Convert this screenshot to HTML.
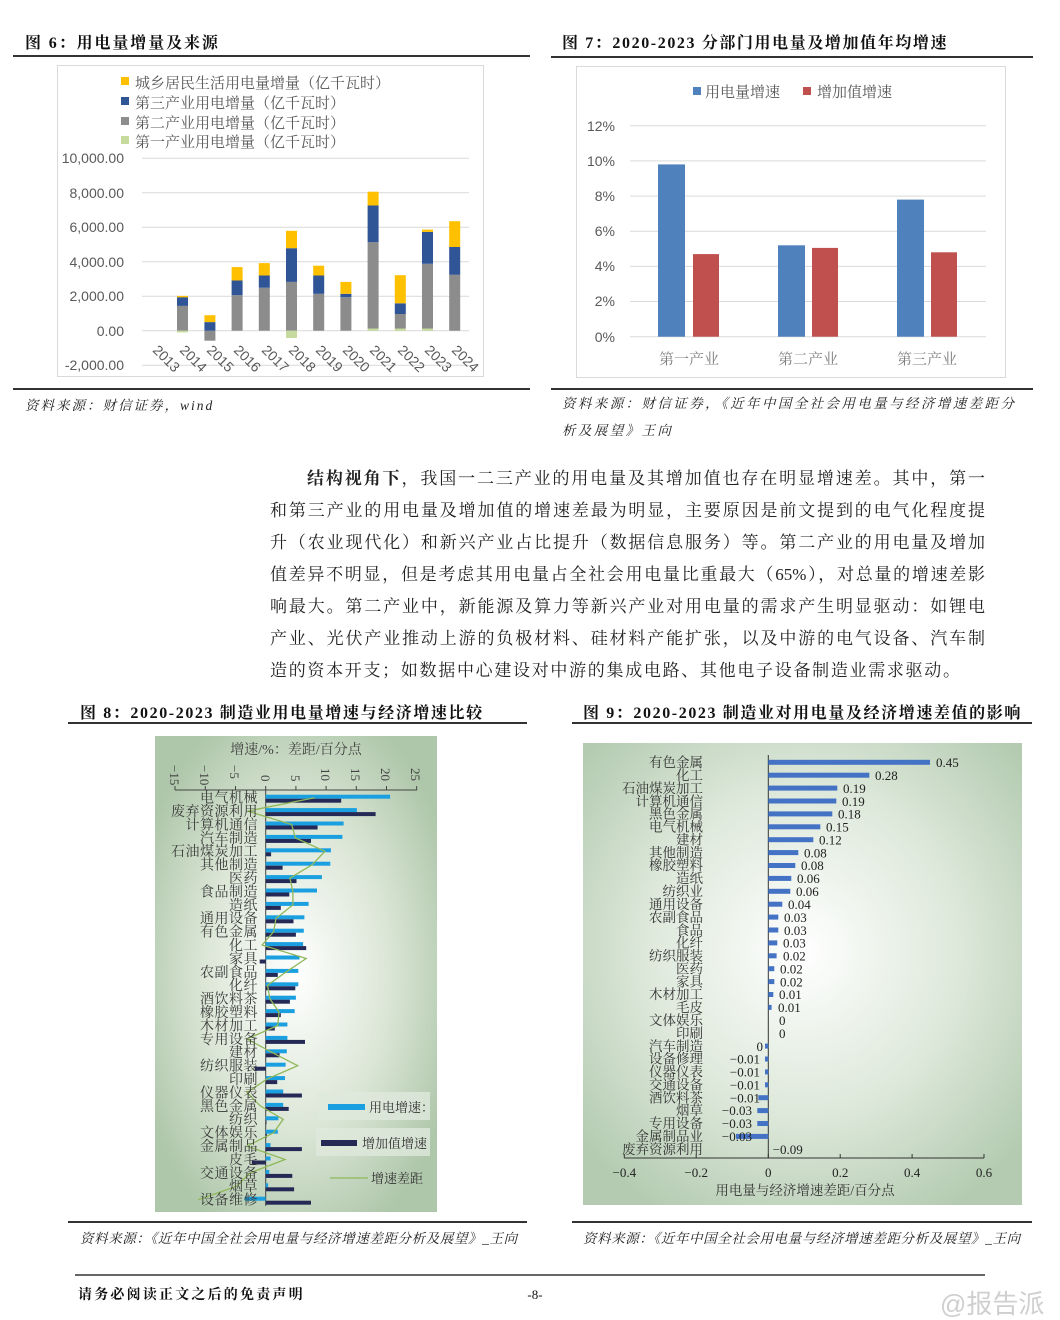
<!DOCTYPE html>
<html><head><meta charset="utf-8">
<style>
html,body{margin:0;padding:0;background:#fff;}
body{width:1060px;height:1320px;position:relative;overflow:hidden;font-family:"Liberation Serif","Noto Serif CJK SC",serif;}
.ln{position:absolute;left:270px;width:715px;font-size:17px;line-height:20px;text-align:justify;text-align-last:justify;color:#222;white-space:nowrap;}
.ln span{display:block;}
</style></head><body>
<svg width="1060" height="1320" viewBox="0 0 1060 1320" style="position:absolute;left:0;top:0" font-family="'Liberation Serif','Noto Serif CJK SC',serif">
<defs>
<radialGradient id="g8" cx="0.5" cy="0.5" r="0.6"><stop offset="0" stop-color="#ffffff"/><stop offset="0.55" stop-color="#dbe6d6"/><stop offset="1" stop-color="#aec6aa"/></radialGradient>
<radialGradient id="g9" cx="0.5" cy="0.45" r="0.65"><stop offset="0" stop-color="#ffffff"/><stop offset="0.55" stop-color="#dde8da"/><stop offset="1" stop-color="#b4cbb1"/></radialGradient>
</defs>
<g font-weight="bold" font-size="16" fill="#111" letter-spacing="1.6">
<text x="25" y="48" letter-spacing="1.9">图 6：用电量增量及来源</text>
<text x="562" y="48">图 7：2020-2023 分部门用电量及增加值年均增速</text>
<text x="80" y="718">图 8：2020-2023 制造业用电量增速与经济增速比较</text>
<text x="583" y="718">图 9：2020-2023 制造业对用电量及经济增速差值的影响</text>
</g>
<g stroke="#333" stroke-width="2">
<line x1="13" y1="56" x2="530" y2="56"/><line x1="551" y1="57" x2="1033" y2="57"/>
<line x1="13" y1="389" x2="530" y2="389"/><line x1="551" y1="389" x2="1033" y2="389"/>
<line x1="68" y1="723" x2="527" y2="723"/><line x1="572" y1="723" x2="1032" y2="723"/>
<line x1="68" y1="1222" x2="527" y2="1222"/><line x1="572" y1="1222" x2="1032" y2="1222"/>
<line x1="75" y1="1275" x2="985" y2="1275" stroke-width="1.5"/>
</g>
<g font-style="italic" font-size="13.5" fill="#222">
<text x="25" y="410" letter-spacing="2">资料来源：财信证券，wind</text>
<text x="562" y="408" letter-spacing="2.4">资料来源：财信证券，《近年中国全社会用电量与经济增速差距分</text>
<text x="562" y="435" letter-spacing="2.4">析及展望》王向</text>
<text x="80" y="1243" letter-spacing="0.6">资料来源：《近年中国全社会用电量与经济增速差距分析及展望》_王向</text>
<text x="583" y="1243" letter-spacing="0.6">资料来源：《近年中国全社会用电量与经济增速差距分析及展望》_王向</text>
</g>
<text x="78" y="1299" font-size="14" font-weight="bold" fill="#111" letter-spacing="2.2">请务必阅读正文之后的免责声明</text>
<text x="535" y="1299" font-size="13" fill="#111" text-anchor="middle">-8-</text>
<text x="940" y="1313" font-size="26" fill="#cfcfcf" font-family="'Liberation Sans','Noto Sans CJK SC',sans-serif">@报告派</text>

<rect x="57.5" y="65.5" width="426" height="311" fill="#fff" stroke="#d9d9d9"/>
<g font-size="15" fill="#595959">
<rect x="121" y="77" width="8" height="8" fill="#FFC000"/><text x="135" y="88">城乡居民生活用电量增量（亿千瓦时）</text>
<rect x="121" y="97" width="8" height="8" fill="#2F5597"/><text x="135" y="108">第三产业用电增量（亿千瓦时）</text>
<rect x="121" y="117" width="8" height="8" fill="#8C8C8C"/><text x="135" y="128">第二产业用电增量（亿千瓦时）</text>
<rect x="121" y="136" width="8" height="8" fill="#C5DA9C"/><text x="135" y="147">第一产业用电增量（亿千瓦时）</text>
</g>
<g stroke="#d9d9d9" stroke-width="1">
<line x1="142" y1="158.3" x2="469" y2="158.3"/><line x1="142" y1="192.8" x2="469" y2="192.8"/>
<line x1="142" y1="227.3" x2="469" y2="227.3"/><line x1="142" y1="261.8" x2="469" y2="261.8"/>
<line x1="142" y1="296.3" x2="469" y2="296.3"/><line x1="142" y1="330.7" x2="469" y2="330.7"/>
<line x1="142" y1="365.2" x2="469" y2="365.2"/>
</g>
<g font-size="14" fill="#595959" text-anchor="end" font-family="'Liberation Sans',sans-serif">
<text x="124" y="163">10,000.00</text><text x="124" y="198">8,000.00</text><text x="124" y="232">6,000.00</text>
<text x="124" y="267">4,000.00</text><text x="124" y="301">2,000.00</text><text x="124" y="336">0.00</text><text x="124" y="370">-2,000.00</text>
</g>
<g>
<rect x="177" y="305.9" width="11" height="24.8" fill="#8C8C8C"/><rect x="177" y="297.2" width="11" height="8.7" fill="#2F5597"/><rect x="177" y="295.9" width="11" height="1.4" fill="#FFC000"/><rect x="177" y="330.7" width="11" height="1.7" fill="#C5DA9C"/>
<rect x="204.4" y="330.7" width="11" height="10" fill="#8C8C8C"/><rect x="204.4" y="322.1" width="11" height="8.6" fill="#2F5597"/><rect x="204.4" y="315.2" width="11" height="6.9" fill="#FFC000"/>
<rect x="231.6" y="295.2" width="11" height="35.5" fill="#8C8C8C"/><rect x="231.6" y="280.5" width="11" height="14.7" fill="#2F5597"/><rect x="231.6" y="267.1" width="11" height="13.4" fill="#FFC000"/>
<rect x="258.8" y="287.7" width="11" height="43" fill="#8C8C8C"/><rect x="258.8" y="275.5" width="11" height="12.2" fill="#2F5597"/><rect x="258.8" y="263.1" width="11" height="12.4" fill="#FFC000"/>
<rect x="286" y="281.9" width="11" height="48.8" fill="#8C8C8C"/><rect x="286" y="248.2" width="11" height="33.7" fill="#2F5597"/><rect x="286" y="230.8" width="11" height="17.4" fill="#FFC000"/><rect x="286" y="330.7" width="11" height="7.3" fill="#C5DA9C"/>
<rect x="313.2" y="293.8" width="11" height="36.9" fill="#8C8C8C"/><rect x="313.2" y="275.5" width="11" height="18.3" fill="#2F5597"/><rect x="313.2" y="265.7" width="11" height="9.8" fill="#FFC000"/>
<rect x="340.4" y="297.2" width="11" height="33.5" fill="#8C8C8C"/><rect x="340.4" y="293.8" width="11" height="3.4" fill="#2F5597"/><rect x="340.4" y="281.9" width="11" height="11.9" fill="#FFC000"/>
<rect x="367.6" y="328.5" width="11" height="2.2" fill="#C5DA9C"/><rect x="367.6" y="242.2" width="11" height="86.3" fill="#8C8C8C"/><rect x="367.6" y="205.5" width="11" height="36.7" fill="#2F5597"/><rect x="367.6" y="191.7" width="11" height="13.8" fill="#FFC000"/>
<rect x="394.8" y="328.5" width="11" height="2.2" fill="#C5DA9C"/><rect x="394.8" y="314" width="11" height="14.5" fill="#8C8C8C"/><rect x="394.8" y="303.3" width="11" height="10.7" fill="#2F5597"/><rect x="394.8" y="275.2" width="11" height="28.1" fill="#FFC000"/>
<rect x="422" y="328.5" width="11" height="2.2" fill="#C5DA9C"/><rect x="422" y="263.8" width="11" height="64.7" fill="#8C8C8C"/><rect x="422" y="231.9" width="11" height="31.9" fill="#2F5597"/><rect x="422" y="229.6" width="11" height="2.3" fill="#FFC000"/>
<rect x="449.2" y="274.8" width="11" height="55.9" fill="#8C8C8C"/><rect x="449.2" y="247" width="11" height="27.8" fill="#2F5597"/><rect x="449.2" y="221.2" width="11" height="25.8" fill="#FFC000"/>
</g>
<g font-size="14" fill="#595959" font-family="'Liberation Sans',sans-serif">
<text transform="translate(152,351) rotate(45)">2013</text><text transform="translate(179,351) rotate(45)">2014</text>
<text transform="translate(206,351) rotate(45)">2015</text><text transform="translate(233,351) rotate(45)">2016</text>
<text transform="translate(261,351) rotate(45)">2017</text><text transform="translate(288,351) rotate(45)">2018</text>
<text transform="translate(315,351) rotate(45)">2019</text><text transform="translate(342,351) rotate(45)">2020</text>
<text transform="translate(369,351) rotate(45)">2021</text><text transform="translate(397,351) rotate(45)">2022</text>
<text transform="translate(424,351) rotate(45)">2023</text><text transform="translate(451,351) rotate(45)">2024</text>
</g>

<rect x="576.5" y="66.5" width="429" height="311" fill="#fff" stroke="#d9d9d9"/>
<g font-size="15" fill="#595959">
<rect x="693" y="87" width="8" height="8" fill="#4F81BD"/><text x="705" y="97">用电量增速</text>
<rect x="803" y="87" width="8" height="8" fill="#C0504D"/><text x="817" y="97">增加值增速</text>
</g>
<g stroke="#d9d9d9">
<line x1="630" y1="125.7" x2="986" y2="125.7"/><line x1="630" y1="160.9" x2="986" y2="160.9"/><line x1="630" y1="196.1" x2="986" y2="196.1"/>
<line x1="630" y1="231.2" x2="986" y2="231.2"/><line x1="630" y1="266.4" x2="986" y2="266.4"/><line x1="630" y1="301.5" x2="986" y2="301.5"/>
<line x1="630" y1="336.7" x2="986" y2="336.7"/>
</g>
<g font-size="14" fill="#595959" text-anchor="end" font-family="'Liberation Sans',sans-serif">
<text x="615" y="131">12%</text><text x="615" y="166">10%</text><text x="615" y="201">8%</text><text x="615" y="236">6%</text>
<text x="615" y="271">4%</text><text x="615" y="306">2%</text><text x="615" y="342">0%</text>
</g>
<rect x="658" y="164.4" width="27" height="172.3" fill="#4F81BD"/><rect x="693" y="254.1" width="26" height="82.6" fill="#C0504D"/>
<rect x="778" y="245.3" width="27" height="91.4" fill="#4F81BD"/><rect x="812" y="247.9" width="26" height="88.8" fill="#C0504D"/>
<rect x="897" y="199.6" width="27" height="137.1" fill="#4F81BD"/><rect x="931" y="252.3" width="26" height="84.4" fill="#C0504D"/>
<g font-size="15" fill="#7f7f7f" text-anchor="middle">
<text x="689" y="364">第一产业</text><text x="808" y="364">第二产业</text><text x="927" y="364">第三产业</text>
</g>

<rect x="155" y="736" width="282" height="476" fill="url(#g8)"/>
<text x="296" y="754" font-size="14" fill="#444" text-anchor="middle">增速/%：差距/百分点</text>
<g font-size="13" fill="#444" font-family="'Liberation Serif',serif">
<text transform="translate(170,765) rotate(90)">−15</text><text transform="translate(200,765) rotate(90)">−10</text>
<text transform="translate(230,765) rotate(90)">−5</text><text transform="translate(261,775) rotate(90)">0</text>
<text transform="translate(291,775) rotate(90)">5</text><text transform="translate(321,768) rotate(90)">10</text>
<text transform="translate(351,768) rotate(90)">15</text><text transform="translate(381,768) rotate(90)">20</text>
<text transform="translate(411,768) rotate(90)">25</text>
</g>
<g stroke="#444" stroke-width="1">
<line x1="175" y1="790" x2="417" y2="790"/>
<line x1="175" y1="790" x2="175" y2="786"/><line x1="205.3" y1="790" x2="205.3" y2="786"/><line x1="235.5" y1="790" x2="235.5" y2="786"/>
<line x1="265.7" y1="790" x2="265.7" y2="786"/><line x1="295.9" y1="790" x2="295.9" y2="786"/><line x1="326.1" y1="790" x2="326.1" y2="786"/>
<line x1="356.3" y1="790" x2="356.3" y2="786"/><line x1="386.5" y1="790" x2="386.5" y2="786"/><line x1="416.7" y1="790" x2="416.7" y2="786"/>
<line x1="265.7" y1="790" x2="265.7" y2="1206"/>
</g>
<g fill="#1AA0E0">
<rect x="265.7" y="794.7" width="124.4" height="4"/><rect x="265.7" y="808.1" width="91.2" height="4"/><rect x="265.7" y="821.5" width="77.9" height="4"/>
<rect x="265.7" y="834.9" width="76.7" height="4"/><rect x="265.7" y="848.3" width="65.2" height="4"/><rect x="265.7" y="861.7" width="64.6" height="4"/>
<rect x="265.7" y="875.1" width="56.2" height="4"/><rect x="265.7" y="888.5" width="51.3" height="4"/><rect x="265.7" y="901.9" width="42.9" height="4"/>
<rect x="265.7" y="915.3" width="38.7" height="4"/><rect x="265.7" y="928.7" width="38.1" height="4"/><rect x="265.7" y="942.1" width="37.4" height="4"/>
<rect x="265.7" y="955.5" width="33.8" height="4"/><rect x="265.7" y="968.9" width="32.6" height="4"/><rect x="265.7" y="982.3" width="32.6" height="4"/>
<rect x="265.7" y="995.7" width="30.2" height="4"/><rect x="265.7" y="1009.1" width="29" height="4"/><rect x="265.7" y="1022.5" width="21.7" height="4"/>
<rect x="265.7" y="1035.9" width="21.7" height="4"/><rect x="265.7" y="1049.3" width="21.1" height="4"/><rect x="265.7" y="1062.7" width="19.9" height="4"/>
<rect x="265.7" y="1076.1" width="19.3" height="4"/><rect x="265.7" y="1089.5" width="17.5" height="4"/><rect x="265.7" y="1102.9" width="17.5" height="4"/>
<rect x="265.7" y="1116.3" width="12.7" height="4"/><rect x="265.7" y="1129.7" width="12.1" height="4"/><rect x="265.7" y="1143.1" width="4.8" height="4"/>
<rect x="265.7" y="1156.5" width="4.8" height="4"/><rect x="265.7" y="1169.9" width="3.6" height="4"/><rect x="265.7" y="1183.3" width="2.4" height="4"/>
<rect x="244.6" y="1196.7" width="21.1" height="4"/>
</g>
<g fill="#242a55">
<rect x="265.7" y="798.7" width="75.5" height="4"/><rect x="265.7" y="812.1" width="109.9" height="4"/><rect x="265.7" y="825.5" width="51.9" height="4"/>
<rect x="265.7" y="838.9" width="45.3" height="4"/><rect x="265.7" y="852.3" width="5.4" height="4"/><rect x="265.7" y="865.7" width="16.9" height="4"/>
<rect x="265.7" y="879.1" width="30.8" height="4"/><rect x="265.7" y="892.5" width="23.6" height="4"/><rect x="265.7" y="905.9" width="15.1" height="4"/>
<rect x="265.7" y="919.3" width="27.8" height="4"/><rect x="265.7" y="932.7" width="30.2" height="4"/><rect x="265.7" y="946.1" width="40.5" height="4"/>
<rect x="259.7" y="959.5" width="6" height="4"/><rect x="265.7" y="972.9" width="12.1" height="4"/><rect x="265.7" y="986.3" width="29.6" height="4"/>
<rect x="265.7" y="999.7" width="24.2" height="4"/><rect x="265.7" y="1013.1" width="15.1" height="4"/><rect x="265.7" y="1026.5" width="9.1" height="4"/>
<rect x="265.7" y="1039.9" width="39.3" height="4"/><rect x="265.7" y="1053.3" width="13.9" height="4"/><rect x="254.8" y="1066.7" width="10.9" height="4"/>
<rect x="265.7" y="1080.1" width="11.5" height="4"/><rect x="265.7" y="1093.5" width="36.2" height="4"/><rect x="265.7" y="1106.9" width="23" height="4"/>
<rect x="265.7" y="1120.3" width="0.8" height="4"/><rect x="265.7" y="1133.7" width="1.2" height="4"/><rect x="265.7" y="1147.1" width="36.2" height="4"/>
<rect x="251.8" y="1160.5" width="13.9" height="4"/><rect x="265.7" y="1173.9" width="26.6" height="4"/><rect x="265.7" y="1187.3" width="28.4" height="4"/>
<rect x="265.7" y="1200.7" width="45.3" height="4"/>
</g>
<polyline fill="none" stroke="#8fb85a" stroke-width="1.3" points="314.6,797.7 247.6,811.1 291.7,824.5 295.3,837.9 324.9,851.3 312.2,864.7 289.9,878.1 292.9,891.5 292.9,904.9 276,918.3 273.6,931.7 262.1,945.1 306.2,958.5 286.2,971.9 267.5,985.3 269.9,998.7 279,1012.1 277.8,1025.5 247,1038.9 271.7,1052.3 297.7,1065.7 266.9,1079.1 247,1092.5 260.3,1105.9 283.2,1119.3 273.6,1132.7 247,1146.1 285,1159.5 250,1172.9 236.7,1186.3 198.1,1199.7"/>
<g font-size="14" fill="#3a3a3a" text-anchor="end" letter-spacing="0.5">
<text x="258" y="802.5">电气机械</text><text x="258" y="816">废弃资源利用</text><text x="258" y="829.5">计算机通信</text>
<text x="258" y="843">汽车制造</text><text x="258" y="856">石油煤炭加工</text><text x="258" y="869.5">其他制造</text>
<text x="258" y="883">医药</text><text x="258" y="896.5">食品制造</text><text x="258" y="910">造纸</text>
<text x="258" y="923">通用设备</text><text x="258" y="936.5">有色金属</text><text x="258" y="950">化工</text>
<text x="258" y="963.5">家具</text><text x="258" y="977">农副食品</text><text x="258" y="990">化纤</text>
<text x="258" y="1003.5">酒饮料茶</text><text x="258" y="1017">橡胶塑料</text><text x="258" y="1030.5">木材加工</text>
<text x="258" y="1044">专用设备</text><text x="258" y="1057">建材</text><text x="258" y="1070.5">纺织服装</text>
<text x="258" y="1084">印刷</text><text x="258" y="1097.5">仪器仪表</text><text x="258" y="1111">黑色金属</text>
<text x="258" y="1124">纺织</text><text x="258" y="1137.5">文体娱乐</text><text x="258" y="1151">金属制品</text>
<text x="258" y="1164.5">皮毛</text><text x="258" y="1178">交通设备</text><text x="258" y="1191">烟草</text>
<text x="258" y="1204.5">设备维修</text>
</g>
<rect x="318" y="1092" width="112" height="28" fill="#dfe8dc" opacity="0.8"/>
<rect x="328" y="1104" width="37" height="6" fill="#1AA0E0"/><text x="369" y="1112" font-size="13" fill="#333">用电增速：</text>
<rect x="316" y="1128" width="114" height="28" fill="#dfe8dc" opacity="0.8"/>
<rect x="321" y="1140" width="36" height="6" fill="#242a55"/><text x="362" y="1148" font-size="13" fill="#333">增加值增速</text>
<line x1="330" y1="1178" x2="368" y2="1178" stroke="#8fb85a" stroke-width="1.3"/>
<text x="371" y="1183" font-size="13" fill="#333">增速差距</text>

<rect x="583" y="743" width="439" height="462" fill="url(#g9)"/>
<g stroke="#333" stroke-width="1">
<line x1="768.3" y1="755" x2="768.3" y2="1158"/>
<line x1="624.3" y1="1158" x2="984" y2="1158"/>
<line x1="624.3" y1="1158" x2="624.3" y2="1154"/><line x1="696.2" y1="1158" x2="696.2" y2="1154"/><line x1="768.3" y1="1158" x2="768.3" y2="1154"/>
<line x1="840.2" y1="1158" x2="840.2" y2="1154"/><line x1="912.1" y1="1158" x2="912.1" y2="1154"/><line x1="984" y1="1158" x2="984" y2="1154"/>
</g>
<g fill="#4472C4">
<rect x="768.3" y="759.8" width="161.7" height="5"/><rect x="768.3" y="772.7" width="101" height="5"/><rect x="768.3" y="785.6" width="69" height="5"/>
<rect x="768.3" y="798.5" width="68" height="5"/><rect x="768.3" y="811.4" width="64" height="5"/><rect x="768.3" y="824.3" width="52" height="5"/>
<rect x="768.3" y="837.2" width="45" height="5"/><rect x="768.3" y="850.1" width="30" height="5"/><rect x="768.3" y="863" width="27" height="5"/>
<rect x="768.3" y="875.9" width="23" height="5"/><rect x="768.3" y="888.8" width="22" height="5"/><rect x="768.3" y="901.7" width="14" height="5"/>
<rect x="768.3" y="914.6" width="10" height="5"/><rect x="768.3" y="927.5" width="10" height="5"/><rect x="768.3" y="940.4" width="9" height="5"/>
<rect x="768.3" y="953.3" width="8.3" height="5"/><rect x="768.3" y="966.2" width="6" height="5"/><rect x="768.3" y="979.1" width="6" height="5"/>
<rect x="768.3" y="992" width="5" height="5"/><rect x="768.3" y="1004.9" width="3.3" height="5"/>
<rect x="765" y="1043.6" width="3.3" height="5"/><rect x="765" y="1056.5" width="3.3" height="5"/><rect x="765" y="1069.4" width="3.3" height="5"/>
<rect x="765" y="1082.3" width="3.3" height="5"/><rect x="758.3" y="1095.2" width="10" height="5"/><rect x="757.3" y="1108.1" width="11" height="5"/>
<rect x="757.3" y="1121" width="11" height="5"/><rect x="736" y="1133.9" width="32.3" height="5"/>
</g>
<g font-size="13" fill="#222" font-family="'Liberation Serif',serif">
<text x="936" y="767">0.45</text><text x="875" y="780">0.28</text><text x="843" y="793">0.19</text><text x="842" y="806">0.19</text>
<text x="838" y="818.5">0.18</text><text x="826" y="831.5">0.15</text><text x="819" y="844.5">0.12</text><text x="804" y="857.5">0.08</text>
<text x="801" y="870">0.08</text><text x="797" y="883">0.06</text><text x="796" y="896">0.06</text><text x="788" y="909">0.04</text>
<text x="784" y="922">0.03</text><text x="784" y="935">0.03</text><text x="783" y="947.5">0.03</text><text x="783" y="960.5">0.02</text>
<text x="780" y="973.5">0.02</text><text x="780" y="986.5">0.02</text><text x="779" y="999">0.01</text><text x="778" y="1012">0.01</text>
<text x="779" y="1025">0</text><text x="779" y="1038">0</text>
<g text-anchor="end"><text x="763" y="1051">0</text><text x="760" y="1063.5">−0.01</text><text x="760" y="1076.5">−0.01</text><text x="760" y="1089.5">−0.01</text>
<text x="760" y="1102.5">−0.01</text><text x="752" y="1115">−0.03</text><text x="752" y="1128">−0.03</text><text x="752" y="1141">−0.03</text></g>
<text x="772.7" y="1154">−0.09</text>
</g>
<g font-size="13.5" fill="#333" text-anchor="end">
<text x="703" y="767">有色金属</text><text x="703" y="780">化工</text><text x="703" y="793">石油煤炭加工</text><text x="703" y="806">计算机通信</text>
<text x="703" y="818.5">黑色金属</text><text x="703" y="831.5">电气机械</text><text x="703" y="844.5">建材</text><text x="703" y="857.5">其他制造</text>
<text x="703" y="870">橡胶塑料</text><text x="703" y="883">造纸</text><text x="703" y="896">纺织业</text><text x="703" y="909">通用设备</text>
<text x="703" y="922">农副食品</text><text x="703" y="935">食品</text><text x="703" y="947.5">化纤</text><text x="703" y="960.5">纺织服装</text>
<text x="703" y="973.5">医药</text><text x="703" y="986.5">家具</text><text x="703" y="999">木材加工</text><text x="703" y="1012">毛皮</text>
<text x="703" y="1025">文体娱乐</text><text x="703" y="1038">印刷</text><text x="703" y="1051">汽车制造</text><text x="703" y="1063.5">设备修理</text>
<text x="703" y="1076.5">仪器仪表</text><text x="703" y="1089.5">交通设备</text><text x="703" y="1102.5">酒饮料茶</text><text x="703" y="1115">烟草</text>
<text x="703" y="1128">专用设备</text><text x="703" y="1141">金属制品业</text><text x="703" y="1154">废弃资源利用</text>
</g>
<g font-size="13" fill="#222" text-anchor="middle" font-family="'Liberation Serif',serif">
<text x="624.3" y="1177">−0.4</text><text x="696.2" y="1177">−0.2</text><text x="768.3" y="1177">0</text>
<text x="840.2" y="1177">0.2</text><text x="912.1" y="1177">0.4</text><text x="984" y="1177">0.6</text>
</g>
<text x="805" y="1195" font-size="13.5" fill="#333" text-anchor="middle">用电量与经济增速差距/百分点</text>
</svg>

<div class="ln" style="top:469px;left:307px;width:678px;"><span><b>结构视角下</b>，我国一二三产业的用电量及其增加值也存在明显增速差。其中，第一</span></div>
<div class="ln" style="top:501px;"><span>和第三产业的用电量及增加值的增速差最为明显，主要原因是前文提到的电气化程度提</span></div>
<div class="ln" style="top:533px;"><span>升（农业现代化）和新兴产业占比提升（数据信息服务）等。第二产业的用电量及增加</span></div>
<div class="ln" style="top:565px;"><span>值差异不明显，但是考虑其用电量占全社会用电量比重最大（65%），对总量的增速差影</span></div>
<div class="ln" style="top:597px;"><span>响最大。第二产业中，新能源及算力等新兴产业对用电量的需求产生明显驱动：如锂电</span></div>
<div class="ln" style="top:629px;"><span>产业、光伏产业推动上游的负极材料、硅材料产能扩张，以及中游的电气设备、汽车制</span></div>
<div class="ln" style="top:661px;width:690px;"><span>造的资本开支；如数据中心建设对中游的集成电路、其他电子设备制造业需求驱动。</span></div>
</body></html>
